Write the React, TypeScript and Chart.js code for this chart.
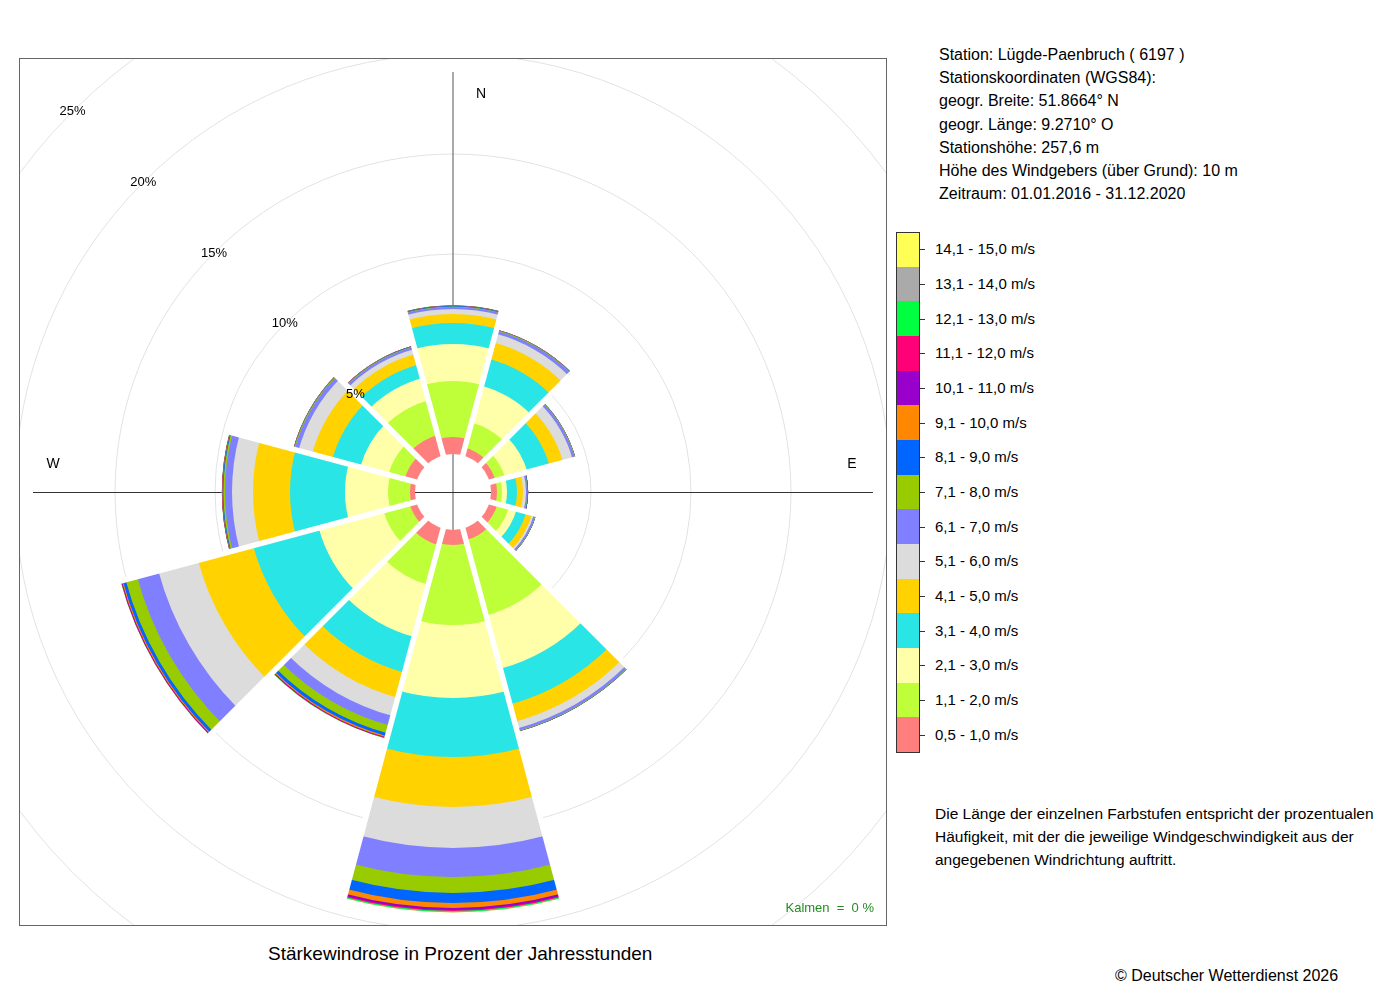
import React, { useEffect, useRef } from "react";
import { Chart, registerables } from "chart.js";
Chart.register(...registerables);

const directions = ["N", "NNO", "ONO", "O", "OSO", "SSO", "S", "SSW", "WSW", "W", "WNW", "NNW"];
const speedClasses = [
  "0,5 - 1,0 m/s", "1,1 - 2,0 m/s", "2,1 - 3,0 m/s", "3,1 - 4,0 m/s", "4,1 - 5,0 m/s",
  "5,1 - 6,0 m/s", "6,1 - 7,0 m/s", "7,1 - 8,0 m/s", "8,1 - 9,0 m/s", "9,1 - 10,0 m/s",
  "10,1 - 11,0 m/s", "11,1 - 12,0 m/s", "12,1 - 13,0 m/s", "13,1 - 14,0 m/s", "14,1 - 15,0 m/s",
];
const classColors = [
  "#FF7F7F", "#BFFF3A", "#FFFFAA", "#2AE5E5", "#FFD200", "#DCDCDC", "#7F7FFF", "#99CC00",
  "#0066FF", "#FF8800", "#9900CC", "#FF0077", "#00FF40", "#AAAAAA", "#FFFF55",
];
const c1 = [0.85, 0.4, 0.3, 0.3, 0.4, 0.6, 0.75, 0.85, 0.35, 0.25, 0.6, 1.05];
const c2 = [2.8, 1.3, 0.5, 0.25, 0.6, 3.9, 4.0, 2.05, 1.35, 1.1, 0.85, 1.8];
const c3 = [1.85, 1.9, 1.15, 0.25, 0.4, 2.75, 3.65, 2.7, 3.35, 2.15, 1.45, 1.15];
const c4 = [1.05, 1.4, 1.15, 0.5, 0.5, 1.85, 2.95, 1.85, 3.4, 2.75, 1.45, 0.7];
const c5 = [0.45, 0.85, 0.7, 0.3, 0.3, 0.9, 2.5, 1.3, 2.85, 1.85, 1.05, 0.55];
const c6 = [0.25, 0.45, 0.5, 0.15, 0.1, 0.35, 2.05, 0.95, 2.05, 1.05, 0.7, 0.25];
const c7 = [0.1, 0.15, 0.12, 0.06, 0.08, 0.12, 1.45, 0.5, 1.1, 0.35, 0.2, 0.12];
const c8 = [0.03, 0.03, 0.03, 0.02, 0.02, 0.03, 0.8, 0.4, 0.6, 0.08, 0.04, 0.03];
const c9 = [0.03, 0.02, 0.01, 0.03, 0.01, 0.01, 0.5, 0.15, 0.15, 0.04, 0.02, 0.02];
const c10 = [0.01, 0.01, 0, 0, 0, 0, 0.25, 0.06, 0.05, 0.02, 0.01, 0.01];
const c11 = [0.01, 0, 0, 0, 0, 0, 0.1, 0.03, 0.03, 0.01, 0, 0];
const c12 = [0, 0, 0, 0, 0, 0, 0.05, 0.02, 0.02, 0, 0, 0];
const c13 = [0.01, 0, 0, 0, 0, 0, 0.05, 0.02, 0.01, 0.01, 0, 0];
const c14 = [0, 0, 0, 0, 0, 0, 0.02, 0, 0, 0, 0, 0];
const c15 = [0, 0, 0, 0, 0, 0, 0.01, 0, 0, 0, 0, 0];
const classValues = [c1, c2, c3, c4, c5, c6, c7, c8, c9, c10, c11, c12, c13, c14, c15];
const ringTicks = [5, 10, 15, 20, 25];

const FONT = "'Liberation Sans', Arial, sans-serif";

export default function App() {
  const ref = useRef<HTMLCanvasElement>(null);
  useEffect(() => {
    const cum: number[][] = [];
    let run = directions.map(() => 0);
    classValues.forEach((arr) => {
      run = run.map((v, i) => v + arr[i]);
      cum.push(run.slice());
    });
    const totals = cum[cum.length - 1];

    const deco = {
      id: "deco",
      beforeDatasetsDraw(chart: any) {
        const s = chart.scales.r;
        const ctx = chart.ctx;
        ctx.save();
        ctx.lineWidth = 1;
        ctx.strokeStyle = "#555";
        ctx.beginPath();
        ctx.moveTo(s.xCenter, s.yCenter - 420);
        ctx.lineTo(s.xCenter, s.yCenter + 420);
        ctx.stroke();
        ctx.strokeStyle = "#333";
        ctx.beginPath();
        ctx.moveTo(s.xCenter - 420, s.yCenter + 0.5);
        ctx.lineTo(s.xCenter + 420, s.yCenter + 0.5);
        ctx.stroke();
        ctx.restore();
      },
      afterDatasetsDraw(chart: any) {
        const s = chart.scales.r;
        const ctx = chart.ctx;
        const cx = s.xCenter, cy = s.yCenter;
        ctx.save();
        // gaps between direction sectors
        ctx.strokeStyle = "#fff";
        ctx.lineWidth = 5.5;
        for (let k = 0; k < 12; k++) {
          const a = (-90 - 15 + 30 * k) * Math.PI / 180;
          const prev = (k + 11) % 12;
          const len = s.getDistanceFromCenterForValue(Math.max(totals[k], totals[prev])) + 4;
          ctx.beginPath();
          ctx.moveTo(cx, cy);
          ctx.lineTo(cx + Math.cos(a) * len, cy + Math.sin(a) * len);
          ctx.stroke();
        }
        // hole
        const h = s.getDistanceFromCenterForValue(0);
        ctx.fillStyle = "#fff";
        ctx.beginPath();
        ctx.arc(cx, cy, h, 0, Math.PI * 2);
        ctx.fill();
        ctx.lineWidth = 1;
        ctx.strokeStyle = "#555";
        ctx.beginPath();
        ctx.moveTo(cx, cy - h);
        ctx.lineTo(cx, cy + h);
        ctx.stroke();
        ctx.strokeStyle = "#333";
        ctx.beginPath();
        ctx.moveTo(cx - h, cy + 0.5);
        ctx.lineTo(cx + h, cy + 0.5);
        ctx.stroke();
        // ring labels along NW diagonal
        ctx.fillStyle = "#000";
        ctx.font = `13px ${FONT}`;
        ctx.textAlign = "center";
        ctx.textBaseline = "middle";
        ringTicks.forEach((t) => {
          const d = s.getDistanceFromCenterForValue(t) / Math.SQRT2;
          ctx.fillText(`${t}%`, cx - d, cy - d);
        });
        ctx.font = `14px ${FONT}`;
        ctx.fillText("N", cx + 28, cy - 398);
        ctx.fillText("W", cx - 400, cy - 28);
        ctx.fillText("E", cx + 399, cy - 28);
        ctx.fillStyle = "#228B22";
        ctx.font = `13px ${FONT}`;
        ctx.textAlign = "right";
        ctx.fillText("Kalmen  =  0 %", 854, 849);
        ctx.restore();
      },
    };

    const chart = new Chart(ref.current!, {
      type: "polarArea",
      data: {
        labels: directions,
        datasets: cum.map((vals, i) => ({
          label: speedClasses[i],
          data: vals,
          backgroundColor: classColors[i],
          borderWidth: 0,
        })),
      },
      options: {
        animation: false,
        responsive: false,
        layout: { padding: 0 },
        plugins: { legend: { display: false }, tooltip: { enabled: false } },
        scales: {
          r: {
            min: -1.9,
            max: 19.75,
            startAngle: -15,
            angleLines: { display: false },
            pointLabels: { display: false },
            ticks: { display: false },
            grid: { color: "#e2e2e2", lineWidth: 1 },
            afterBuildTicks: (sc: any) => {
              sc.ticks = ringTicks.map((v) => ({ value: v }));
            },
          },
        },
      },
      plugins: [deco],
    });
    return () => chart.destroy();
  }, []);

  const textStyle: React.CSSProperties = { position: "absolute", fontFamily: FONT, fontSize: 16, color: "#000", whiteSpace: "nowrap" };
  const info = [
    "Station:  Lügde-Paenbruch  ( 6197 )",
    "Stationskoordinaten (WGS84):",
    "geogr. Breite: 51.8664° N",
    "geogr. Länge:   9.2710° O",
    "Stationshöhe: 257,6 m",
    "Höhe des Windgebers (über Grund): 10 m",
    "Zeitraum: 01.01.2016 - 31.12.2020",
  ];
  const desc = [
    "Die Länge der einzelnen Farbstufen entspricht der prozentualen",
    "Häufigkeit, mit der die jeweilige Windgeschwindigkeit aus der",
    "angegebenen Windrichtung auftritt.",
  ];
  const boxH = 520 / 15;
  return (
    <div style={{ position: "absolute", left: 0, top: 0, width: 1400, height: 1000, background: "#fff" }}>
      <canvas ref={ref} width={866} height={866} style={{ position: "absolute", left: 20, top: 59, width: 866, height: 866 }} />
      <div style={{ position: "absolute", left: 19, top: 58, width: 866, height: 866, border: "1px solid #666", pointerEvents: "none" }} />
      {info.map((t, i) => (
        <div key={i} style={{ ...textStyle, left: 939, top: 46 + i * 23.2, lineHeight: "18px" }}>{t}</div>
      ))}
      <div style={{ position: "absolute", left: 896, top: 232, width: 23, height: 520, border: "1px solid #333", boxSizing: "border-box" }} />
      {speedClasses.map((_, j) => {
        const i = 14 - j;
        const y = 232 + j * boxH;
        return (
          <React.Fragment key={i}>
            <div style={{ position: "absolute", left: 897, top: y, width: 22, height: boxH, background: classColors[i] }} />
            <div style={{ position: "absolute", left: 919, top: y + boxH / 2, width: 6, height: 1, background: "#333" }} />
            <div style={{ ...textStyle, fontSize: 15, left: 935, top: y + boxH / 2 - 9, lineHeight: "18px" }}>{speedClasses[i]}</div>
          </React.Fragment>
        );
      })}
      <div style={{ position: "absolute", left: 896, top: 232, width: 24, height: 521, border: "1px solid #333", boxSizing: "border-box", pointerEvents: "none" }} />
      {desc.map((t, i) => (
        <div key={i} style={{ ...textStyle, fontSize: 15.5, left: 935, top: 805 + i * 23, lineHeight: "18px" }}>{t}</div>
      ))}
      <div style={{ ...textStyle, fontSize: 19, left: 268, top: 943, lineHeight: "22px" }}>Stärkewindrose in Prozent der Jahresstunden</div>
      <div style={{ ...textStyle, fontSize: 16, left: 1115, top: 967, lineHeight: "18px" }}>© Deutscher Wetterdienst  2026</div>
    </div>
  );
}
